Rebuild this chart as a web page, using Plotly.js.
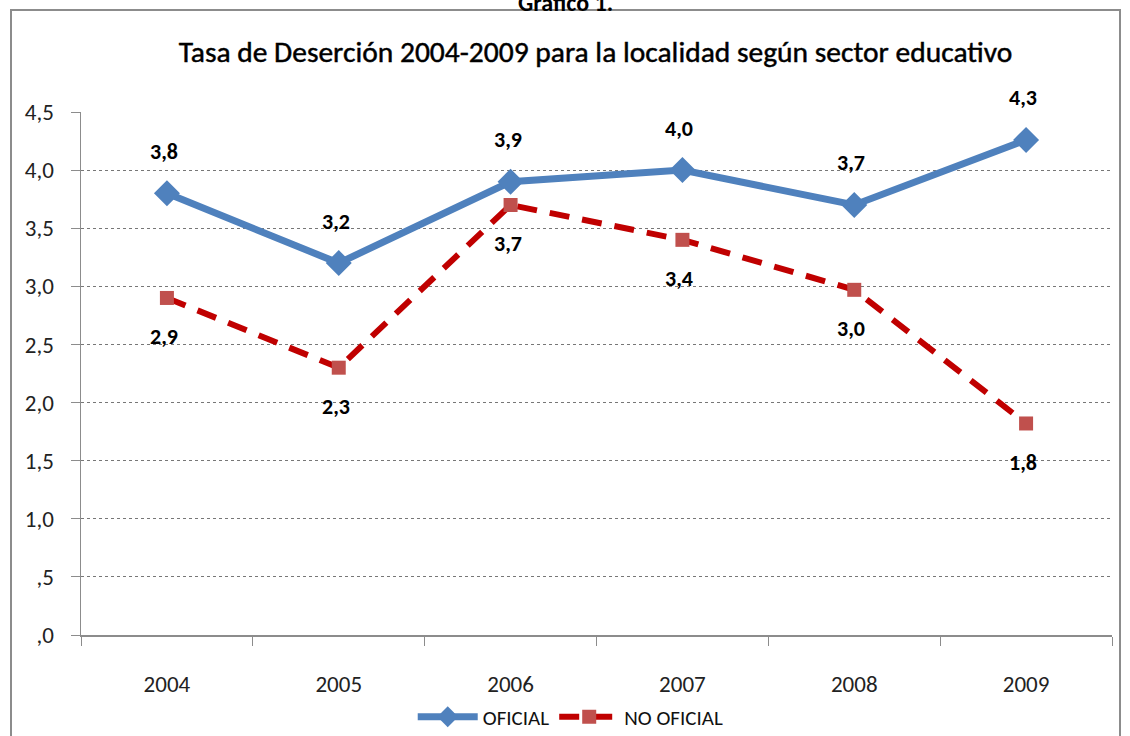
<!DOCTYPE html>
<html>
<head>
<meta charset="utf-8">
<script src="https://cdn.plot.ly/plotly-3.0.1.min.js"></script>
<style>
  html, body { margin: 0; padding: 0; background: #fff; overflow: hidden; }
  #frame { position: absolute; left: 10px; top: 9px; width: 1111px; height: 760px; border: 2px solid #8c8c8c; box-sizing: border-box; }
  #chart { position: absolute; left: 0; top: 0; width: 1130px; height: 736px; }
  #chart .gtitle { stroke: #000; stroke-width: 0.45px; }
</style>
</head>
<body>
<div id="frame"></div>
<div id="chart"></div>
<script>
const years = ['2004', '2005', '2006', '2007', '2008', '2009'];
const oficial = [3.8, 3.2, 3.9, 4.0, 3.7, 4.26];
const noOficial = [2.9, 2.3, 3.7, 3.4, 2.97, 1.82];
const yTickVals = [0, 0.5, 1.0, 1.5, 2.0, 2.5, 3.0, 3.5, 4.0, 4.5];
const yTickText = [',0', ',5', '1,0', '1,5', '2,0', '2,5', '3,0', '3,5', '4,0', '4,5'];
const seriesNames = ['OFICIAL', 'NO OFICIAL'];
const titleText = 'Tasa de Deserción 2004-2009 para la localidad según sector educativo';
const chartNumber = 'Gráfico 1.';

const FONT = "Carlito, 'Liberation Sans Narrow', 'Open Sans', sans-serif";
const fmt = v => v.toFixed(1).replace('.', ',');

const traces = [
  {
    x: years, y: oficial, name: seriesNames[0], type: 'scatter', mode: 'lines+markers',
    line: { color: '#4F81BD', width: 7 },
    marker: { symbol: 'diamond', size: 20, color: '#4F81BD' },
    hoverinfo: 'x+y'
  },
  {
    x: years, y: noOficial, name: seriesNames[1], type: 'scatter', mode: 'lines+markers',
    line: { color: '#C00000', width: 6, dash: '20px,13px' },
    marker: { symbol: 'square', size: 14, color: '#C0504D' },
    hoverinfo: 'x+y'
  }
];

const annotations = [];
years.forEach((yr, i) => {
  annotations.push({ x: i, y: oficial[i], text: '<b>' + fmt(oficial[i]) + '</b>', showarrow: false, yshift: 42, xshift: -3,
    font: { family: FONT, size: 22, color: '#000' } });
  annotations.push({ x: i, y: noOficial[i], text: '<b>' + fmt(noOficial[i]) + '</b>', showarrow: false, yshift: -39, xshift: -3,
    font: { family: FONT, size: 22, color: '#000' } });
});
annotations.push({ xref: 'paper', yref: 'paper', x: 0.47, y: 1.0, yshift: 126, text: '<b>' + chartNumber + '</b>', showarrow: false,
  font: { family: FONT, size: 24, color: '#000' } });

const layout = {
  width: 1130, height: 736,
  margin: { l: 81, r: 18, t: 112, b: 101, autoexpand: false },
  paper_bgcolor: 'rgba(0,0,0,0)', plot_bgcolor: 'rgba(0,0,0,0)',
  font: { family: FONT, color: '#222' },
  title: { text: titleText, x: 0.527, xanchor: 'center', y: 0.93, yanchor: 'middle',
    font: { family: FONT, size: 29.5, color: '#000' } },
  xaxis: {
    type: 'category', range: [-0.5, 5.5], tickson: 'boundaries', ticks: 'outside', ticklen: 9, tickcolor: '#8c8c8c',
    showline: true, linecolor: '#8c8c8c', linewidth: 1.5, showgrid: false,
    tickfont: { family: FONT, size: 23, color: '#222' }, ticklabelstandoff: 28
  },
  yaxis: {
    range: [0, 4.5], tickvals: yTickVals, ticktext: yTickText, ticks: 'outside', ticklen: 9, tickcolor: '#8c8c8c',
    showline: true, linecolor: '#8c8c8c', linewidth: 1.5,
    showgrid: true, gridcolor: '#777', griddash: 'dot', gridwidth: 1, zeroline: false,
    tickfont: { family: FONT, size: 23, color: '#222' }, ticklabelstandoff: 12
  },
  showlegend: true,
  legend: { orientation: 'h', x: 0.475, xanchor: 'center', y: -0.157, yanchor: 'middle',
    font: { family: FONT, size: 21, color: '#111' }, itemwidth: 60 },
  annotations: annotations
};

Plotly.newPlot('chart', traces, layout, { displayModeBar: false, staticPlot: true });
</script>
</body>
</html>
